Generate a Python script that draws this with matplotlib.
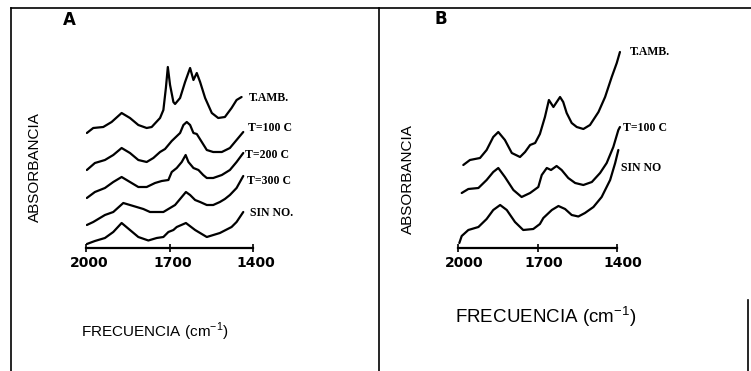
import matplotlib
matplotlib.use('Agg')
import matplotlib.pyplot as plt
from matplotlib.lines import Line2D
from matplotlib.transforms import ScaledTranslation
from matplotlib import font_manager

# ---------------- data (wavenumber cm^-1, absorbance in arbitrary offset units) -------------
tick_values = [2000, 1700, 1400]
tick_labels = ["2000", "1700", "1400"]

# Panel A
a_labels = ["T.AMB.", "T=100 C", "T=200 C", "T=300 C", "SIN NO."]
a_wn_tamb = [1997, 1974, 1938, 1908, 1872, 1842, 1812, 1782, 1764, 1734, 1722, 1713, 1706, 1698,
             1686, 1680, 1662, 1644, 1626, 1614, 1602, 1590, 1572, 1548, 1525, 1501, 1477, 1459, 1441]
a_ab_tamb = [1.15, 1.20, 1.21, 1.26, 1.35, 1.30, 1.23, 1.20, 1.21, 1.30, 1.38, 1.60, 1.81, 1.63,
             1.46, 1.44, 1.50, 1.66, 1.80, 1.68, 1.75, 1.66, 1.50, 1.35, 1.30, 1.31, 1.40, 1.48, 1.51]
a_wn_t100 = [1997, 1968, 1932, 1902, 1872, 1842, 1812, 1782, 1758, 1734, 1716, 1692, 1662, 1650,
             1638, 1626, 1614, 1602, 1584, 1566, 1543, 1512, 1483, 1459, 1435]
a_ab_t100 = [0.78, 0.85, 0.88, 0.93, 1.00, 0.95, 0.88, 0.86, 0.90, 0.96, 0.99, 1.07, 1.15, 1.23,
             1.26, 1.23, 1.15, 1.14, 1.06, 0.98, 0.96, 0.96, 1.00, 1.08, 1.16]
a_wn_t200 = [1997, 1968, 1932, 1902, 1872, 1842, 1812, 1782, 1752, 1728, 1704, 1692, 1674, 1656,
             1642, 1632, 1614, 1596, 1579, 1566, 1543, 1512, 1483, 1459, 1435]
a_ab_t200 = [0.50, 0.56, 0.60, 0.66, 0.71, 0.66, 0.61, 0.61, 0.65, 0.67, 0.68, 0.76, 0.80, 0.86,
             0.93, 0.86, 0.80, 0.78, 0.73, 0.70, 0.70, 0.73, 0.78, 0.86, 0.95]
a_wn_t300 = [1997, 1974, 1950, 1932, 1902, 1866, 1842, 1818, 1794, 1770, 1746, 1722, 1698, 1680,
             1656, 1641, 1626, 1608, 1590, 1566, 1543, 1519, 1501, 1483, 1459, 1435]
a_ab_t300 = [0.23, 0.26, 0.30, 0.33, 0.36, 0.45, 0.43, 0.41, 0.39, 0.36, 0.36, 0.36, 0.40, 0.43,
             0.51, 0.56, 0.53, 0.48, 0.46, 0.43, 0.43, 0.46, 0.49, 0.53, 0.60, 0.72]
a_wn_sin = [1997, 1968, 1932, 1902, 1872, 1842, 1812, 1776, 1746, 1722, 1704, 1686, 1674, 1641,
            1608, 1566, 1519, 1477, 1459, 1435]
a_ab_sin = [0.04, 0.07, 0.10, 0.16, 0.25, 0.18, 0.11, 0.075, 0.10, 0.11, 0.16, 0.18, 0.21, 0.25,
            0.18, 0.11, 0.15, 0.21, 0.26, 0.36]

# Panel B
b_labels = ["T.AMB.", "T=100 C", "SIN NO"]
b_wn_tamb = [1980, 1955, 1917, 1892, 1867, 1848, 1823, 1797, 1766, 1747, 1728, 1709, 1691, 1672,
             1657, 1640, 1615, 1603, 1590, 1571, 1552, 1527, 1502, 1470, 1445, 1420, 1401, 1389]
b_ab_tamb = [0.83, 0.88, 0.90, 0.98, 1.11, 1.16, 1.08, 0.95, 0.91, 0.96, 1.03, 1.05, 1.14, 1.31,
             1.48, 1.41, 1.51, 1.46, 1.35, 1.25, 1.21, 1.19, 1.23, 1.36, 1.51, 1.71, 1.85, 1.96]
b_wn_t100 = [1986, 1961, 1923, 1892, 1867, 1848, 1823, 1791, 1760, 1728, 1697, 1684, 1665, 1649,
             1628, 1609, 1584, 1558, 1527, 1495, 1464, 1439, 1414, 1395, 1389]
b_ab_t100 = [0.55, 0.59, 0.60, 0.68, 0.76, 0.80, 0.71, 0.58, 0.51, 0.55, 0.61, 0.73, 0.80, 0.78,
             0.82, 0.78, 0.70, 0.65, 0.63, 0.66, 0.75, 0.85, 1.01, 1.18, 1.21]
b_wn_sin = [1995, 1986, 1961, 1923, 1892, 1867, 1841, 1816, 1785, 1754, 1716, 1691, 1678, 1646,
            1621, 1596, 1571, 1546, 1521, 1489, 1458, 1426, 1407, 1395]
b_ab_sin = [0.05, 0.12, 0.18, 0.21, 0.29, 0.38, 0.43, 0.38, 0.26, 0.18, 0.19, 0.24, 0.30, 0.38,
            0.42, 0.39, 0.33, 0.315, 0.35, 0.41, 0.51, 0.68, 0.85, 0.98]

# ---------------- figure -------------
W, H = 751, 371
fig = plt.figure(figsize=(W / 100, H / 100), dpi=100)
fig.patch.set_facecolor('white')

available = {f.name for f in font_manager.fontManager.ttflist}
narrow = 'Liberation Sans Narrow' if 'Liberation Sans Narrow' in available else 'Liberation Sans'
serif = 'Liberation Serif'
sans = 'Liberation Sans'


def ax_at(l, t, r, b):
    return fig.add_axes([l / W, 1 - b / H, (r - l) / W, (b - t) / H])


def fx(px):
    return px / W


def fy(py):
    return 1 - py / H


axA = ax_at(86, 48, 253, 248)
axB = ax_at(458, 28, 621, 248)
axA.set_xlim(2000, 1400)
axA.set_ylim(0, 2.0)
axB.set_xlim(2000, 1385)
axB.set_ylim(0, 2.2)

for ax, dx in ((axA, 3), (axB, 6)):
    ax.set_facecolor('none')
    for s in ('left', 'right', 'top'):
        ax.spines[s].set_visible(False)
    ax.spines['bottom'].set_linewidth(1.6)
    ax.spines['bottom'].set_bounds(2000, 1400)
    ax.set_yticks([])
    ax.set_xticks(tick_values)
    ax.set_xticklabels(tick_labels, fontsize=10, fontweight='bold', family='DejaVu Sans')
    ax.tick_params(axis='x', direction='inout', length=6, width=1.2, pad=3)
    for lab in ax.get_xticklabels():
        lab.set_transform(lab.get_transform() + ScaledTranslation(dx / 100, 0, fig.dpi_scale_trans))

curve_kw = dict(color='black', lw=1.6, solid_capstyle='round', solid_joinstyle='round')
lab_kw = dict(textcoords='offset pixels', fontsize=8.5, fontweight='bold', family=serif,
              va='center', ha='left')

a_series = [(a_wn_tamb, a_ab_tamb, (7, -1)), (a_wn_t100, a_ab_t100, (5, 4)),
            (a_wn_t200, a_ab_t200, (2, -2)), (a_wn_t300, a_ab_t300, (4, -5)),
            (a_wn_sin, a_ab_sin, (7, -1))]
for (wn, ab, off), name in zip(a_series, a_labels):
    axA.plot(wn, ab, **curve_kw)
    axA.annotate(name, xy=(wn[-1], ab[-1]), xytext=off, **lab_kw)

b_series = [(b_wn_tamb, b_ab_tamb, (10, 0)), (b_wn_t100, b_ab_t100, (3, -1)),
            (b_wn_sin, b_ab_sin, (3, -18))]
for (wn, ab, off), name in zip(b_series, b_labels):
    axB.plot(wn, ab, **curve_kw)
    axB.annotate(name, xy=(wn[-1], ab[-1]), xytext=off, **lab_kw)

# panel letters
fig.text(fx(69), fy(20), "A", fontsize=12, fontweight='heavy', family='DejaVu Sans',
         ha='center', va='center')
fig.text(fx(441), fy(19), "B", fontsize=12, fontweight='heavy', family='DejaVu Sans',
         ha='center', va='center')

# axis titles
fig.text(fx(35), fy(167), "ABSORBANCIA", rotation=90, fontsize=11, family=narrow,
         ha='center', va='center')
fig.text(fx(408), fy(179), "ABSORBANCIA", rotation=90, fontsize=11, family=narrow,
         ha='center', va='center')
fig.text(fx(155), fy(332), r"FRECUENCIA (cm$^{\mathregular{-1}}$)", fontsize=11, family=sans,
         ha='center', va='center')
fig.text(fx(546), fy(317), r"FRECUENCIA (cm$^{\mathregular{-1}}$)", fontsize=13.5, family=sans,
         ha='center', va='center')

# frame lines of the scanned figure
frame_kw = dict(color='black', lw=1.2, transform=fig.transFigure)
fig.add_artist(Line2D([fx(11), fx(751)], [fy(8), fy(8)], **frame_kw))
fig.add_artist(Line2D([fx(11), fx(11)], [fy(8), fy(371)], **frame_kw))
fig.add_artist(Line2D([fx(379), fx(379)], [fy(8), fy(371)], **frame_kw))
fig.add_artist(Line2D([fx(748), fx(748)], [fy(300), fy(371)], **frame_kw))

fig.savefig('out.png', dpi=100, facecolor='white')
